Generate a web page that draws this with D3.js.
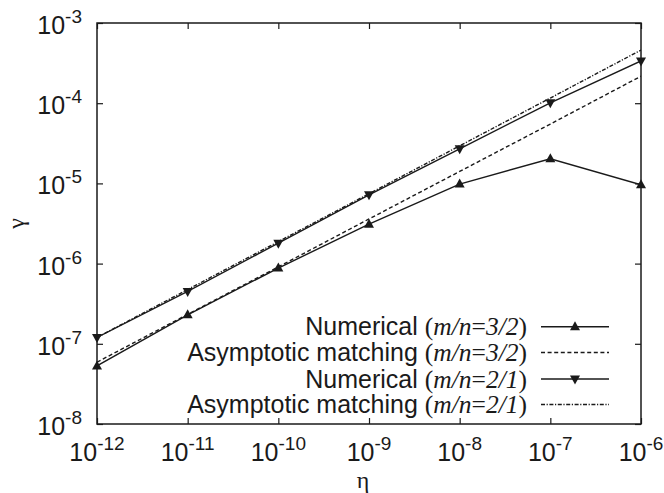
<!DOCTYPE html>
<html><head><meta charset="utf-8">
<script src="https://cdn.jsdelivr.net/npm/d3@7"></script>
<style>body{margin:0;background:#fff}</style>
</head><body>
<script>
const eta = [1e-12, 1e-11, 1e-10, 1e-9, 1e-8, 1e-7, 1e-6];
const numerical32 = [5.3e-8, 2.3e-7, 8.8e-7, 3.1e-6, 9.8e-6, 2.03e-5, 9.6e-6];
const asymptotic32 = [5.9e-8, 2.33e-7, 9.1e-7, 3.6e-6, 1.41e-5, 5.5e-5, 2.17e-4];
const numerical21 = [1.2e-7, 4.5e-7, 1.8e-6, 7.2e-6, 2.7e-5, 1.01e-4, 3.36e-4];
const asymptotic21 = [1.2e-7, 4.75e-7, 1.88e-6, 7.43e-6, 2.94e-5, 1.16e-4, 4.6e-4];
const xTickExp = [-12, -11, -10, -9, -8, -7, -6];
const yTickExp = [-8, -7, -6, -5, -4, -3];
const legendLabels = [
  {pre: "Numerical ", ital: "m/n", eq: "=", frac: "3/2"},
  {pre: "Asymptotic matching ", ital: "m/n", eq: "=", frac: "3/2"},
  {pre: "Numerical ", ital: "m/n", eq: "=", frac: "2/1"},
  {pre: "Asymptotic matching ", ital: "m/n", eq: "=", frac: "2/1"}
];

const W = 664, H = 493;
const L = 97, R = 641, T = 23, B = 424;
const svg = d3.select("body").append("svg").attr("width", W).attr("height", H);
const x = d3.scaleLog().domain([1e-12, 1e-6]).range([L, R]);
const y = d3.scaleLog().domain([1e-8, 1e-3]).range([B, T]);
const ink = "#1a1a1a";
const sans = "'Liberation Sans', Arial, Helvetica, sans-serif";
const serif = "'Liberation Serif', 'Times New Roman', serif";

// ticks (inward, mirrored)
const xt = xTickExp.map(e => Math.pow(10, e));
const yt = yTickExp.map(e => Math.pow(10, e));
function styleAxis(g){ g.select(".domain").remove(); g.selectAll("line").attr("stroke", ink).attr("stroke-width", 1.2); g.selectAll("text").remove(); }
svg.append("g").attr("transform", `translate(0,${B})`).call(d3.axisBottom(x).tickValues(xt).tickSize(-6).tickFormat("")).call(styleAxis);
svg.append("g").attr("transform", `translate(0,${T})`).call(d3.axisTop(x).tickValues(xt).tickSize(-6).tickFormat("")).call(styleAxis);
svg.append("g").attr("transform", `translate(${L},0)`).call(d3.axisLeft(y).tickValues(yt).tickSize(-6).tickFormat("")).call(styleAxis);
svg.append("g").attr("transform", `translate(${R},0)`).call(d3.axisRight(y).tickValues(yt).tickSize(-6).tickFormat("")).call(styleAxis);

// tick labels
function powLabel(sel, e){
  sel.append("tspan").text("10");
  sel.append("tspan").attr("font-size", 19).attr("dy", -11).text(String(e));
}
xTickExp.forEach(e => {
  const t = svg.append("text").attr("x", x(Math.pow(10, e))).attr("y", 461)
    .attr("text-anchor", "middle").attr("font-family", sans).attr("font-size", 25).attr("fill", ink);
  powLabel(t, e);
});
yTickExp.forEach(e => {
  const t = svg.append("text").attr("x", 82).attr("y", y(Math.pow(10, e)) + 11)
    .attr("text-anchor", "end").attr("font-family", sans).attr("font-size", 25).attr("fill", ink);
  powLabel(t, e);
});

// axis titles
svg.append("text").attr("x", 363).attr("y", 488).attr("text-anchor", "middle")
  .attr("font-family", serif).attr("font-size", 24).attr("fill", ink).text("η");
svg.append("text").attr("transform", `translate(24,${(T + B) / 2}) rotate(-90)`).attr("text-anchor", "middle")
  .attr("font-family", serif).attr("font-size", 24).attr("fill", ink).text("γ");

// data
const clipId = "clip";
svg.append("clipPath").attr("id", clipId).append("rect").attr("x", L).attr("y", T).attr("width", R - L).attr("height", B - T);
const line = d3.line().x(d => x(d[0])).y(d => y(d[1]));
const plot = svg.append("g").attr("clip-path", `url(#${clipId})`);
const series = [
  {vals: numerical32, dash: null, marker: "up"},
  {vals: asymptotic32, dash: "4,2.6", marker: null},
  {vals: numerical21, dash: null, marker: "down"},
  {vals: asymptotic21, dash: "4,1.6,1.2,1.6", marker: null}
];
series.forEach(s => {
  plot.append("path").datum(eta.map((e, i) => [e, s.vals[i]])).attr("d", line)
    .attr("fill", "none").attr("stroke", ink).attr("stroke-width", 1.4)
    .attr("stroke-dasharray", s.dash);
});
function tri(dir){
  return dir === "up" ? "M0,-5.5L5,3.5L-5,3.5Z" : "M0,5.5L5,-3.5L-5,-3.5Z";
}
series.forEach(s => {
  if (!s.marker) return;
  svg.append("g").selectAll("path").data(eta.map((e, i) => [e, s.vals[i]])).join("path")
    .attr("transform", d => `translate(${x(d[0])},${y(d[1])})`).attr("d", tri(s.marker)).attr("fill", ink);
});

// frame
svg.append("rect").attr("x", L).attr("y", T).attr("width", R - L).attr("height", B - T)
  .attr("fill", "none").attr("stroke", ink).attr("stroke-width", 1.5);

// legend
const rowY = [326.7, 352.5, 379, 404.5];
legendLabels.forEach((lab, i) => {
  const t = svg.append("text").attr("x", 527).attr("y", rowY[i] + 8.5).attr("text-anchor", "end")
    .attr("font-family", sans).attr("font-size", 25).attr("fill", ink);
  t.append("tspan").text(lab.pre);
  t.append("tspan").attr("font-family", serif).attr("font-size", 25.5).text("(");
  t.append("tspan").attr("font-family", serif).attr("font-size", 25.5).attr("font-style", "italic").text(lab.ital);
  t.append("tspan").attr("font-family", serif).attr("font-size", 25.5).text(lab.eq);
  t.append("tspan").attr("font-family", serif).attr("font-size", 25.5).attr("font-style", "italic").text(lab.frac);
  t.append("tspan").attr("font-family", serif).attr("font-size", 25.5).text(")");
  const s = series[i];
  svg.append("line").attr("x1", 541).attr("x2", 609).attr("y1", rowY[i]).attr("y2", rowY[i])
    .attr("stroke", ink).attr("stroke-width", 1.4).attr("stroke-dasharray", s.dash);
  if (s.marker) svg.append("path").attr("transform", `translate(575,${rowY[i]})`).attr("d", tri(s.marker)).attr("fill", ink);
});
</script>
</body></html>
